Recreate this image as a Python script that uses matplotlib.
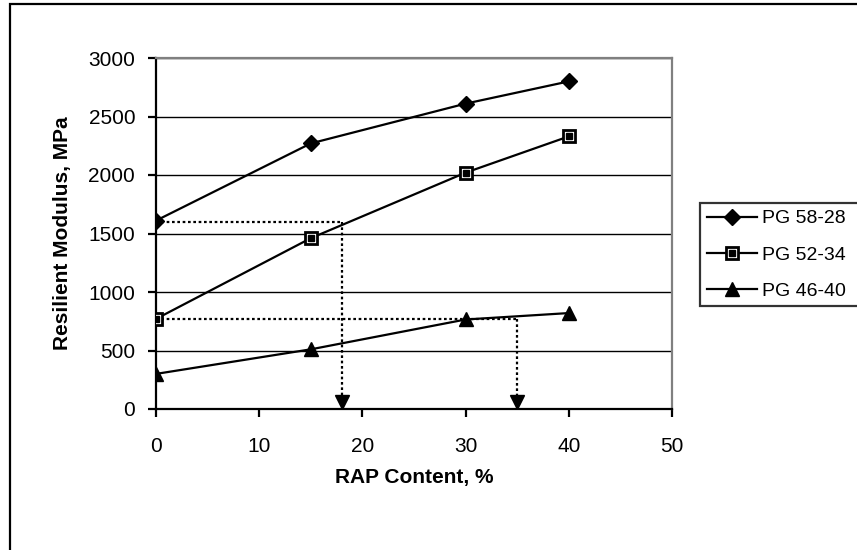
import matplotlib.pyplot as plt
from matplotlib.patches import Rectangle
from matplotlib.legend_handler import HandlerTuple

plt.rcParams['font.family'] = ['Liberation Sans', 'DejaVu Sans']

rap = [0, 15, 30, 40]
pg5828 = [1610, 2270, 2610, 2800]
pg5234 = [770, 1460, 2020, 2330]
pg4640 = [300, 510, 765, 820]

# guide lines: (x where dotted drop happens, y level)
guide_x = [18, 35]
guide_y = [1600, 770]

W, H = 857, 550
fig = plt.figure(figsize=(W / 100, H / 100), dpi=100)

# outer frame (cut off at right and bottom like the original)
fig.patches.append(Rectangle((10 / W, -0.1), 1.1, (H - 4) / H + 0.1, transform=fig.transFigure,
                             fill=False, ec='black', lw=1.6))

ax = fig.add_axes([156 / W, (H - 409) / H, (672 - 156) / W, (409 - 58) / H])

ax.set_xlim(0, 50)
ax.set_ylim(0, 3000)
ax.set_xticks(range(0, 51, 10))
ax.set_yticks(range(0, 3001, 500))
ax.yaxis.grid(True, color='black', lw=1)
ax.set_axisbelow(True)

ax.spines['left'].set_linewidth(1.6)
ax.spines['bottom'].set_linewidth(1.6)
ax.spines['top'].set_color('#808080')
ax.spines['right'].set_color('#808080')
ax.spines['top'].set_linewidth(1.6)
ax.spines['right'].set_linewidth(1.6)
ax.tick_params(direction='out', length=6, width=1.6, labelsize=15)
ax.tick_params(axis='x', pad=14)
ax.tick_params(axis='y', pad=9)

dots = (0, (1.2, 1.2))
for gx, gy in zip(guide_x, guide_y):
    ax.plot([0, gx], [gy, gy], color='black', lw=1.6, ls=dots, zorder=2)
    ax.plot([gx, gx], [gy, 110], color='black', lw=1.6, ls=dots, zorder=2)
    ax.plot([gx], [60], marker='v', color='black', ms=10, zorder=2)

h1, = ax.plot(rap, pg5828, color='black', lw=1.6, marker='D', ms=8, zorder=3)
h2a, = ax.plot(rap, pg5234, color='black', lw=1.6, marker='s', ms=9, mfc='white',
               mec='black', mew=2, zorder=3)
h2b, = ax.plot(rap, pg5234, ls='none', marker='s', ms=4, color='black', zorder=4)
h3, = ax.plot(rap, pg4640, color='black', lw=1.6, marker='^', ms=10, zorder=3)

ax.set_xlabel('RAP Content, %', fontsize=15, fontweight='bold', labelpad=9)
ax.set_ylabel('Resilient Modulus, MPa', fontsize=15, fontweight='bold', labelpad=12)

# legend box runs past the right edge of the picture, as in the original
leg = fig.legend([h1, (h2a, h2b), h3], ['PG 58-28', 'PG 52-34', 'PG 46-40'],
                 handler_map={tuple: HandlerTuple(ndivide=1)},
                 loc='upper left', bbox_to_anchor=(700 / W, 0, 200 / W, 1 - 203 / H),
                 mode='expand',
                 fontsize=14, frameon=True, fancybox=False, edgecolor='black',
                 borderpad=0.35, labelspacing=0.95, handlelength=2.6, handletextpad=0.25,
                 borderaxespad=0)
leg.get_frame().set_linewidth(1.6)

fig.savefig('out.png', dpi=100)
